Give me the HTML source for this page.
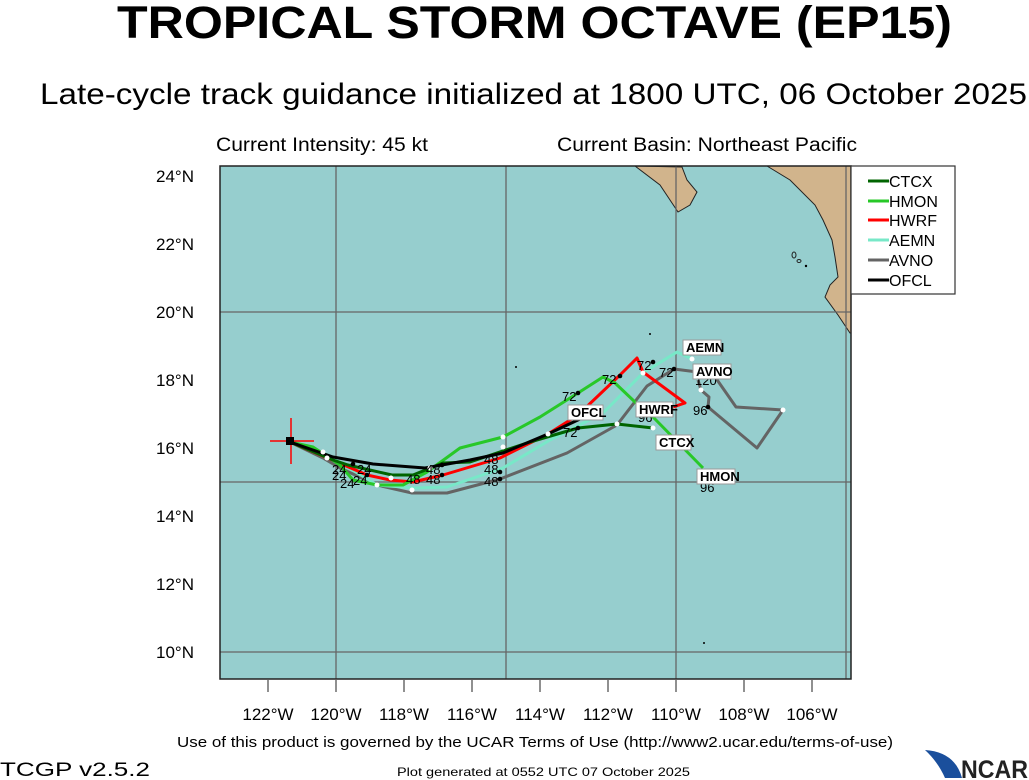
<!DOCTYPE html>
<html><head><meta charset="utf-8"><style>
body{margin:0;background:#fff;width:1029px;height:780px;overflow:hidden}
svg{display:block;font-family:"Liberation Sans",sans-serif}
</style></head><body>
<svg width="1029" height="780" viewBox="0 0 1029 780">
<text x="117" y="38" font-size="45" font-weight="bold" textLength="835" lengthAdjust="spacingAndGlyphs">TROPICAL STORM OCTAVE (EP15)</text>
<text x="40" y="104" font-size="30" textLength="987" lengthAdjust="spacingAndGlyphs">Late-cycle track guidance initialized at 1800 UTC, 06 October 2025</text>
<text x="216" y="151" font-size="19" textLength="212" lengthAdjust="spacingAndGlyphs">Current Intensity: 45 kt</text>
<text x="557" y="151" font-size="19" textLength="300" lengthAdjust="spacingAndGlyphs">Current Basin: Northeast Pacific</text>
<rect x="220" y="166" width="631" height="513" fill="#96cece"/>
<path d="M635,166 L660,185 L672,203 L678,212 L690,205 L697,192 L687,180 L682,167 Z" fill="#d1b48c" stroke="#222" stroke-width="1"/>
<path d="M767,166 L790,180 L815,205 L823,220 L832,240 L835,257 L838,277 L830,285 L825,297 L838,315 L850,333 L851,333 L851,166 Z" fill="#d1b48c" stroke="#222" stroke-width="1"/>
<g fill="none" stroke="#222" stroke-width="1"><ellipse cx="794" cy="255" rx="2" ry="3"/><ellipse cx="799" cy="261" rx="2" ry="1.5"/></g>
<circle cx="806" cy="266" r="1.2"/><circle cx="650" cy="334" r="1"/><circle cx="516" cy="367" r="1"/><circle cx="704" cy="643" r="1"/>
<g stroke="#666" stroke-width="1.3">
<line x1="336" y1="166" x2="336" y2="679"/><line x1="506" y1="166" x2="506" y2="679"/><line x1="676" y1="166" x2="676" y2="679"/><line x1="846" y1="166" x2="846" y2="679"/>
<line x1="220" y1="312" x2="851" y2="312"/><line x1="220" y1="482" x2="851" y2="482"/><line x1="220" y1="652" x2="851" y2="652"/>
</g>
<rect x="220" y="166" width="631" height="513" fill="none" stroke="#222" stroke-width="1.5"/>
<g stroke="#222" stroke-width="1">
<line x1="268" y1="680" x2="268" y2="692"/><line x1="336" y1="680" x2="336" y2="692"/><line x1="404" y1="680" x2="404" y2="692"/><line x1="472" y1="680" x2="472" y2="692"/><line x1="540" y1="680" x2="540" y2="692"/><line x1="608" y1="680" x2="608" y2="692"/><line x1="676" y1="680" x2="676" y2="692"/><line x1="744" y1="680" x2="744" y2="692"/><line x1="812" y1="680" x2="812" y2="692"/>
</g>
<g font-size="17" text-anchor="middle">
<text x="268" y="720">122°W</text><text x="336" y="720">120°W</text><text x="404" y="720">118°W</text><text x="472" y="720">116°W</text><text x="540" y="720">114°W</text><text x="608" y="720">112°W</text><text x="676" y="720">110°W</text><text x="744" y="720">108°W</text><text x="812" y="720">106°W</text>
</g>
<g font-size="17" text-anchor="end">
<text x="194" y="182">24°N</text><text x="194" y="250">22°N</text><text x="194" y="318">20°N</text><text x="194" y="386">18°N</text><text x="194" y="454">16°N</text><text x="194" y="522">14°N</text><text x="194" y="590">12°N</text><text x="194" y="658">10°N</text>
</g>
<g fill="none" stroke-width="3" stroke-linejoin="round">
<polyline stroke="#646464" points="290,442 323,458 340,468 377,485 412,493 447,493 500,479 567,453 617,425 647,386 674,369 713,374 736,407 783,410 757,448 708,407 709,397 701,390 698,380"/>
<polyline stroke="#78e8c8" points="290,442 320,452 328,455 377,485 415,488 447,487 503,468 550,440 603,413 643,373 677,352 692,359"/>
<polyline stroke="#ff0000" points="290,442 337,462 367,475 390,480 413,482 443,475 500,458 548,434 578,415 620,375 637,358 643,372 685,403 673,407"/>
<polyline stroke="#28c828" points="290,442 313,447 340,465 353,480 377,485 403,485 427,472 460,448 503,437 540,417 578,393 603,377 615,383 635,402 653,417 703,468"/>
<polyline stroke="#006400" points="290,442 333,460 348,465 392,475 413,475 443,463 470,462 530,442 578,428 617,424 653,428"/>
<polyline stroke="#000" points="290,442 333,457 373,464 425,468 470,460 503,453 548,434 580,419"/>
</g>
<g fill="#fff"><circle cx="323" cy="452" r="2.5"/><circle cx="327" cy="458" r="2.5"/><circle cx="377" cy="485" r="2.5"/><circle cx="412" cy="490" r="2.5"/><circle cx="503" cy="437" r="2.5"/><circle cx="503" cy="447" r="2.5"/><circle cx="548" cy="434" r="2.5"/><circle cx="617" cy="424" r="2.5"/><circle cx="653" cy="428" r="2.5"/><circle cx="643" cy="373" r="2.5"/><circle cx="692" cy="359" r="2.5"/><circle cx="701" cy="390" r="2.5"/><circle cx="783" cy="410" r="2.5"/><circle cx="391" cy="478" r="2.5"/><circle cx="430" cy="468" r="2.5"/></g>
<g fill="#000"><circle cx="578" cy="393" r="2.3"/><circle cx="620" cy="376" r="2.3"/><circle cx="653" cy="362" r="2.3"/><circle cx="674" cy="369" r="2.3"/><circle cx="708" cy="407" r="2.3"/><circle cx="578" cy="428" r="2.3"/><circle cx="442" cy="475" r="2.3"/><circle cx="442" cy="465" r="2.3"/><circle cx="500" cy="472" r="2.3"/><circle cx="500" cy="479" r="2.3"/><circle cx="353" cy="464" r="2.3"/><circle cx="367" cy="475" r="2.3"/></g>
<g font-size="13">
<text x="562" y="401">72</text><text x="602" y="384">72</text><text x="637" y="370">72</text><text x="659" y="377">72</text><text x="563" y="437">72</text>
<text x="695" y="385">120</text><text x="693" y="415">96</text><text x="638" y="422">96</text><text x="700" y="492">96</text>
<text x="484" y="464">48</text><text x="484" y="474">48</text><text x="484" y="486">48</text><text x="426" y="474">48</text><text x="406" y="484">48</text><text x="426" y="484">48</text>
<text x="332" y="474">24</text><text x="357" y="474">24</text><text x="332" y="480">24</text><text x="340" y="488">24</text><text x="353" y="485">24</text>
</g>
<g font-size="13" font-weight="bold">
<rect x="683" y="340" width="38" height="15" fill="#fff" stroke="#999"/><text x="686" y="352">AEMN</text>
<rect x="693" y="364" width="38" height="15" fill="#fff" stroke="#999"/><text x="696" y="376">AVNO</text>
<rect x="568" y="405" width="35" height="15" fill="#fff" stroke="#999"/><text x="571" y="417">OFCL</text>
<rect x="636" y="402" width="37" height="15" fill="#fff" stroke="#999"/><text x="639" y="414">HWRF</text>
<rect x="656" y="435" width="35" height="15" fill="#fff" stroke="#999"/><text x="659" y="447">CTCX</text>
<rect x="697" y="469" width="38" height="15" fill="#fff" stroke="#999"/><text x="700" y="481">HMON</text>
</g>
<line x1="291" y1="418" x2="291" y2="464" stroke="#f00" stroke-width="1.5"/><line x1="270" y1="441" x2="314" y2="441" stroke="#f00" stroke-width="1.5"/>
<rect x="286" y="437" width="8" height="8" fill="#000"/>
<rect x="851" y="166" width="104" height="128" fill="#fff" stroke="#333" stroke-width="1.2"/>
<g stroke-width="3">
<line x1="868" y1="181" x2="889" y2="181" stroke="#006400"/><line x1="868" y1="201" x2="889" y2="201" stroke="#28c828"/><line x1="868" y1="220" x2="889" y2="220" stroke="#ff0000"/><line x1="868" y1="240" x2="889" y2="240" stroke="#78e8c8"/><line x1="868" y1="260" x2="889" y2="260" stroke="#646464"/><line x1="868" y1="280" x2="889" y2="280" stroke="#000"/>
</g>
<g font-size="16"><text x="889" y="187">CTCX</text><text x="889" y="207">HMON</text><text x="889" y="226">HWRF</text><text x="889" y="246">AEMN</text><text x="889" y="266">AVNO</text><text x="889" y="286">OFCL</text></g>
<text x="177" y="747" font-size="15" textLength="716" lengthAdjust="spacingAndGlyphs">Use of this product is governed by the UCAR Terms of Use (http://www2.ucar.edu/terms-of-use)</text>
<text x="0" y="776" font-size="19" textLength="150" lengthAdjust="spacingAndGlyphs">TCGP v2.5.2</text>
<text x="397" y="776" font-size="12" textLength="293" lengthAdjust="spacingAndGlyphs">Plot generated at 0552 UTC   07 October 2025</text>
<path d="M925,750 Q955,752 962,778 L945,778 Q938,762 925,750Z" fill="#1a4f9c"/>
<text x="961" y="778" font-size="25" font-weight="bold" fill="#222" textLength="67" lengthAdjust="spacingAndGlyphs">NCAR</text>
</svg>
</body></html>
